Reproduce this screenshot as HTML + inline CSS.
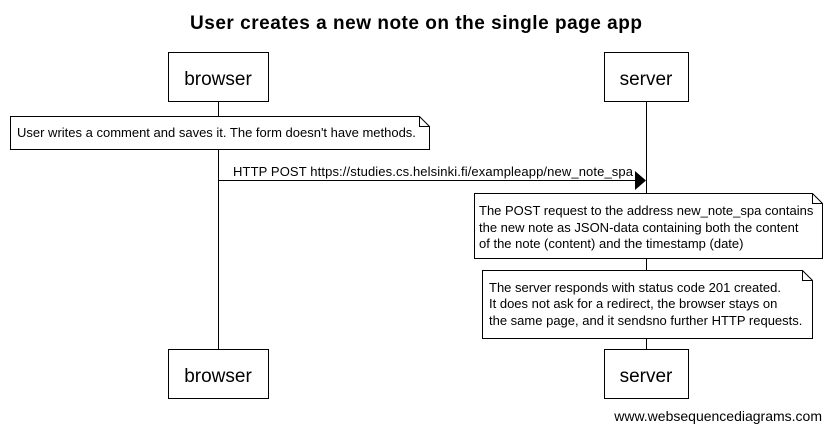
<!DOCTYPE html>
<html><head><meta charset="utf-8"><style>
body{margin:0;background:#fff;}
svg text{font-family:"Liberation Sans",Arial,sans-serif;fill:#000;}
</style></head><body>
<svg width="830" height="432" xmlns="http://www.w3.org/2000/svg">
<rect width="830" height="432" fill="#fff"/>
<text x="416" y="29" text-anchor="middle" font-size="19" font-weight="bold" textLength="452" lengthAdjust="spacing">User creates a new note on the single page app</text>
<g stroke="#000" stroke-width="1" fill="none">
<line x1="218.5" y1="102" x2="218.5" y2="349"/>
<line x1="646.5" y1="102" x2="646.5" y2="349"/>
</g>
<g stroke="#000" stroke-width="1" fill="#fff">
<rect x="168.5" y="52.5" width="100" height="49"/>
<rect x="604.5" y="52.5" width="84" height="49"/>
<rect x="168.5" y="349.5" width="100" height="49"/>
<rect x="604.5" y="349.5" width="84" height="49"/>
<path d="M10.5 116.5 H419.5 L429.5 126.5 V149.5 H10.5 Z M419.5 116.5 V126.5 H429.5"/>
<path d="M474.5 193.5 H812.5 L822.5 203.5 V258.5 H474.5 Z M812.5 193.5 V203.5 H822.5"/>
<path d="M482.5 270.5 H802.5 L812.5 280.5 V338.5 H482.5 Z M802.5 270.5 V280.5 H812.5"/>
</g>
<text x="218" y="85" text-anchor="middle" font-size="19">browser</text>
<text x="646" y="85" text-anchor="middle" font-size="19">server</text>
<text x="218" y="382" text-anchor="middle" font-size="19">browser</text>
<text x="646" y="382" text-anchor="middle" font-size="19">server</text>
<text x="17" y="137" font-size="13">User writes a comment and saves it. The form doesn't have methods.</text>
<line x1="218" y1="180.5" x2="636" y2="180.5" stroke="#000" stroke-width="1"/>
<polygon points="635,171 646,180.5 635,190" fill="#000"/>
<text x="233" y="176" font-size="13" textLength="400" lengthAdjust="spacing">HTTP POST https://studies.cs.helsinki.fi/exampleapp/new_note_spa</text>
<text font-size="13"><tspan x="479" y="215">The POST request to the address new_note_spa contains</tspan><tspan x="479" y="232">the new note as JSON-data containing both the content</tspan><tspan x="479" y="248">of the note (content) and the timestamp (date)</tspan></text>
<text font-size="13"><tspan x="489" y="292">The server responds with status code 201 created.</tspan><tspan x="489" y="308">It does not ask for a redirect, the browser stays on</tspan><tspan x="489" y="325">the same page, and it sendsno further HTTP requests.</tspan></text>
<text x="822" y="421" text-anchor="end" font-size="14">www.websequencediagrams.com</text>
</svg>
</body></html>
